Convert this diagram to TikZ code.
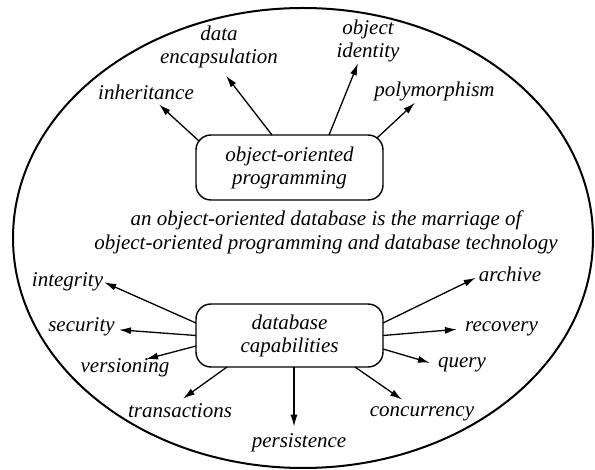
\documentclass[tikz,border=0pt]{standalone}
\usepackage{fontspec}
\setmainfont{Liberation Serif}
\usetikzlibrary{arrows.meta}
\begin{document}
\begin{tikzpicture}[x=1pt,y=-1pt,
  lbl/.style={font=\fontsize{21}{23}\selectfont\itshape, inner sep=1pt, anchor=base, align=center},
  box/.style={draw, line width=1.4pt, rounded corners=15pt, minimum width=187pt, inner sep=0pt, outer sep=0pt,
    font=\fontsize{21}{23}\selectfont\itshape, align=center},
  arr/.style={line width=1.3pt, -{Latex[length=12pt,width=7pt]}}]
\useasboundingbox (0,0) rectangle (595,470);
% outer ellipse
\draw[line width=2pt] (303,238) ellipse [x radius=290pt, y radius=230pt];
% boxes
\node[box, minimum height=65pt] (oop) at (289.5,167.5) {object-oriented\\programming};
\node[box, minimum height=63pt] (db) at (289.5,335.5) {database\\capabilities};
% central caption
\node[lbl, anchor=center, font=\fontsize{21}{24}\selectfont\itshape] (cap) at (326,232)
  {an object-oriented database is the marriage of\\object-oriented programming and database technology};
% top labels
\node[lbl] (inh) at (146,100) {inheritance};
\node[lbl, anchor=center] (denc) at (219,47) {data\\encapsulation};
\node[lbl, anchor=center] (oid) at (368,41) {object\\identity};
\node[lbl] (poly) at (434.5,97) {polymorphism};
% bottom labels
\node[lbl] (integ) at (67.5,287) {integrity};
\node[lbl] (sec) at (81.5,332) {security};
\node[lbl] (vers) at (125,373) {versioning};
\node[lbl] (trans) at (180,418) {transactions};
\node[lbl] (pers) at (299,448) {persistence};
\node[lbl] (conc) at (422,417) {concurrency};
\node[lbl] (query) at (462,368) {query};
\node[lbl] (rec) at (501.5,332) {recovery};
\node[lbl] (arch) at (510,282) {archive};
% top arrows
\draw[arr] ([xshift=3pt,yshift=-6pt]oop.north west) -- ([xshift=13pt,yshift=-3pt]inh.south);
\draw[arr] ([xshift=-17.5pt]oop.north) -- ([xshift=7pt,yshift=-6.4pt]denc.south);
\draw[arr] ([xshift=39.5pt]oop.north) -- ([xshift=-10pt]oid.south);
\draw[arr] ([xshift=-6pt,yshift=-3pt]oop.north east) -- ([xshift=-19.5pt]poly.south);
% bottom arrows
\draw[arr] ([yshift=12.5pt]db.west) -- (integ.east);
\draw[arr] (db.west) -- ([xshift=3pt,yshift=-2.5pt]sec.east);
\draw[arr] ([yshift=-10.5pt]db.west) -- ([xshift=21pt,yshift=-1.3pt]vers.north);
\draw[arr] ([xshift=-62.5pt]db.south) -- ([xshift=3pt,yshift=4.3pt]trans.north);
\draw[arr] ([xshift=4.5pt]db.south) -- ([xshift=-5pt,yshift=6.3pt]pers.north);
\draw[arr] ([xshift=65.5pt]db.south) -- ([xshift=-20pt,yshift=6.3pt]conc.north);
\draw[arr] ([yshift=-13.5pt]db.east) -- ([xshift=-7pt,yshift=2.5pt]query.west);
\draw[arr] (db.east) -- ([xshift=-7pt]rec.west);
\draw[arr] ([yshift=12.5pt]db.east) -- ([xshift=-2pt,yshift=-3pt]arch.west);
\end{tikzpicture}
\end{document}
